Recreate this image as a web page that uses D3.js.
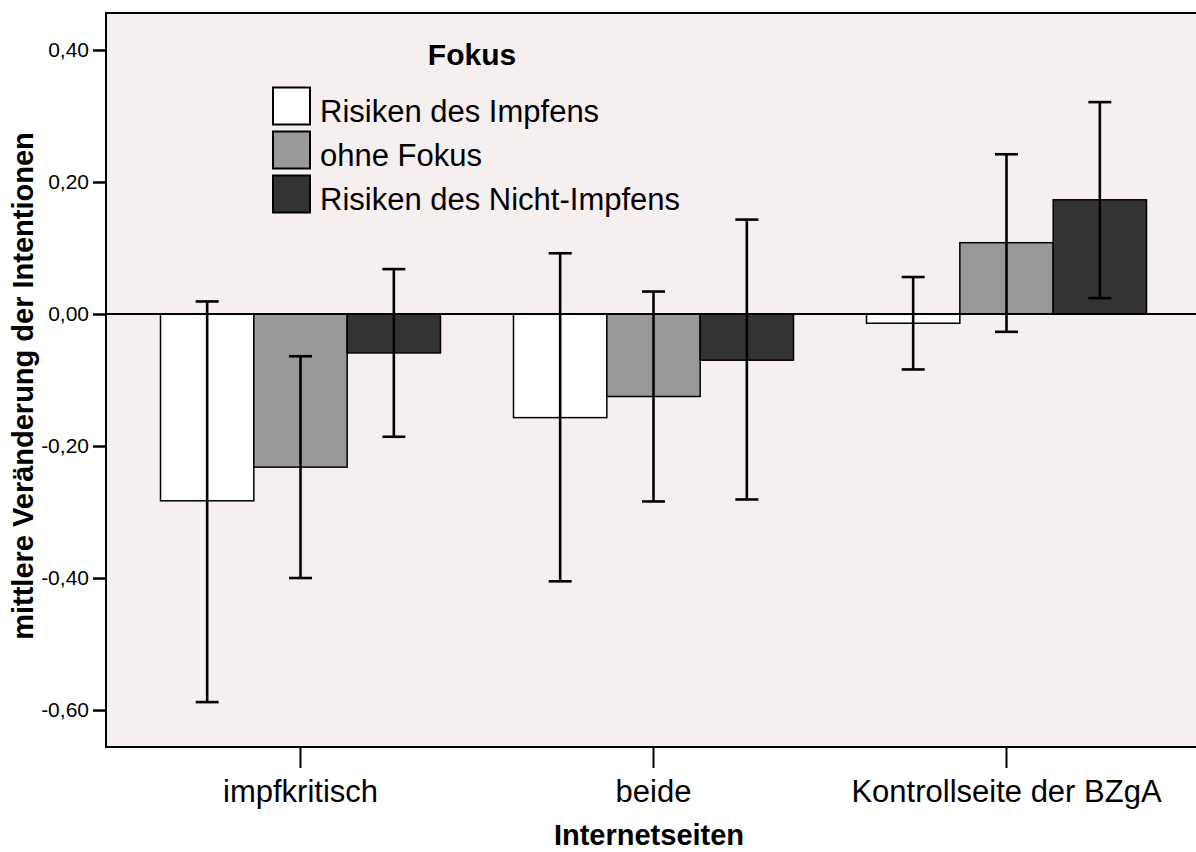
<!DOCTYPE html>
<html>
<head>
<meta charset="utf-8">
<script src="https://cdn.jsdelivr.net/npm/d3@7"></script>
<style>
    body { margin: 0; background: #ffffff; }
    text { font-family: "Liberation Sans", Arial, sans-serif; fill: #000000; }
</style>
</head>
<body>
<div id="chart"></div>
<script>
// data
var categories = ["impfkritisch", "beide", "Kontrollseite der BZgA"];
var seriesNames = ["Risiken des Impfens", "ohne Fokus", "Risiken des Nicht-Impfens"];
var seriesColors = ["#ffffff", "#999999", "#333333"];

// mean per category, one array per series
var meanImpfen      = [-0.283, -0.157, -0.014];
var meanOhneFokus   = [-0.232, -0.125,  0.108];
var meanNichtImpfen = [-0.059, -0.070,  0.173];

// error bar ends
var lowerImpfen      = [-0.588, -0.405, -0.084];
var upperImpfen      = [ 0.019,  0.092,  0.056];
var lowerOhneFokus   = [-0.400, -0.284, -0.027];
var upperOhneFokus   = [-0.064,  0.034,  0.242];
var lowerNichtImpfen = [-0.186, -0.281,  0.024];
var upperNichtImpfen = [ 0.068,  0.143,  0.321];

var yTicks = [-0.6, -0.4, -0.2, 0, 0.2, 0.4];
var yDomain = [-0.656, 0.456];

class BarChart {

    constructor() {
        this.width = 1196;
        this.height = 852;
        this.plot = { left: 106, top: 13, right: 1200, bottom: 747 };

        // flatten into one row per bar
        var means = [meanImpfen, meanOhneFokus, meanNichtImpfen];
        var lows = [lowerImpfen, lowerOhneFokus, lowerNichtImpfen];
        var highs = [upperImpfen, upperOhneFokus, upperNichtImpfen];
        this.rows = [];
        var self = this;
        categories.forEach(function (c, i) {
            seriesNames.forEach(function (s, j) {
                self.rows.push({ cat: c, series: s, color: seriesColors[j],
                    value: means[j][i], low: lows[j][i], high: highs[j][i] });
            });
        });
    }

    draw() {
        var p = this.plot;
        var svg = d3.select("#chart")
            .append("svg")
            .attr("width", this.width)
            .attr("height", this.height);

        var x = d3.scaleBand()
            .domain(categories)
            .range([124, 1183]);
        var xInner = d3.scaleBand()
            .domain(seriesNames)
            .range([-140, 140]);
        var y = d3.scaleLinear()
            .domain(yDomain)
            .range([p.bottom, p.top]);

        // plot background
        svg.append("rect")
            .attr("x", p.left)
            .attr("y", p.top)
            .attr("width", p.right - p.left)
            .attr("height", p.bottom - p.top)
            .style("fill", "#f5efef")
            .style("stroke", "#000")
            .style("stroke-width", 2);

        // bars
        svg.selectAll(".bar")
            .data(this.rows)
            .enter()
            .append("rect")
              .attr("class", "bar")
              .attr("x", function (d) { return x(d.cat) + x.bandwidth() / 2 + xInner(d.series) })
              .attr("y", function (d) { return y(Math.max(0, d.value)) })
              .attr("width", xInner.bandwidth())
              .attr("height", function (d) { return Math.abs(y(d.value) - y(0)) })
              .style("fill", function (d) { return d.color })
              .style("stroke", "#000")
              .style("stroke-width", 1.5);

        // zero line
        svg.append("line")
            .attr("x1", p.left)
            .attr("x2", p.right)
            .attr("y1", y(0))
            .attr("y2", y(0))
            .style("stroke", "#000")
            .style("stroke-width", 2);

        // error bars
        var eb = svg.selectAll(".err")
            .data(this.rows)
            .enter()
            .append("g")
              .attr("class", "err")
              .attr("transform", function (d) {
                  return "translate(" + (x(d.cat) + x.bandwidth() / 2 + xInner(d.series) + xInner.bandwidth() / 2) + ",0)";
              })
              .style("stroke", "#000")
              .style("stroke-width", 2.6);
        eb.append("line")
            .attr("y1", function (d) { return y(d.low) })
            .attr("y2", function (d) { return y(d.high) });
        eb.append("line")
            .attr("x1", -11.5).attr("x2", 11.5)
            .attr("y1", function (d) { return y(d.low) })
            .attr("y2", function (d) { return y(d.low) });
        eb.append("line")
            .attr("x1", -11.5).attr("x2", 11.5)
            .attr("y1", function (d) { return y(d.high) })
            .attr("y2", function (d) { return y(d.high) });

        // y axis, german decimal comma and plain hyphen minus
        var de = d3.formatLocale({ decimal: ",", thousands: ".", grouping: [3], currency: ["", " €"], minus: "-" });
        var yAxis = svg.append("g")
            .attr("transform", "translate(" + p.left + ",0)")
            .call(d3.axisLeft(y).tickValues(yTicks).tickFormat(de.format(".2f")).tickSize(13).tickPadding(4));
        yAxis.select(".domain").remove();
        yAxis.selectAll("line").style("stroke-width", 2.5);
        yAxis.selectAll("text")
            .style("font-size", "21px")
            .style("font-family", "'Liberation Sans', Arial, sans-serif");

        // x axis
        var xAxis = svg.append("g")
            .attr("transform", "translate(0," + p.bottom + ")")
            .call(d3.axisBottom(x).tickSize(21).tickPadding(12));
        xAxis.select(".domain").remove();
        xAxis.selectAll("line").style("stroke-width", 2);
        xAxis.selectAll("text")
            .style("font-size", "31px")
            .style("font-family", "'Liberation Sans', Arial, sans-serif");

        // axis titles
        svg.append("text")
            .attr("x", 649)
            .attr("y", 845)
            .attr("text-anchor", "middle")
            .style("font-size", "29px")
            .style("font-weight", "bold")
            .text("Internetseiten");
        svg.append("text")
            .attr("transform", "translate(33,386) rotate(-90)")
            .attr("text-anchor", "middle")
            .style("font-size", "29px")
            .style("font-weight", "bold")
            .text("mittlere Veränderung der Intentionen");

        // legend
        var legend = svg.append("g").attr("transform", "translate(273,0)");
        legend.append("text")
            .attr("x", 199)
            .attr("y", 65)
            .attr("text-anchor", "middle")
            .style("font-size", "30px")
            .style("font-weight", "bold")
            .text("Fokus");
        var item = legend.selectAll(".item")
            .data(seriesNames)
            .enter()
            .append("g")
              .attr("class", "item")
              .attr("transform", function (d, i) { return "translate(0," + (87.5 + i * 44) + ")" });
        item.append("rect")
            .attr("width", 37)
            .attr("height", 37)
            .style("fill", function (d, i) { return seriesColors[i] })
            .style("stroke", "#000")
            .style("stroke-width", 2);
        item.append("text")
            .attr("x", 47)
            .attr("y", 34)
            .style("font-size", "31px")
            .text(function (d) { return d });
    }
}

var chart = new BarChart();
chart.draw();
</script>
</body>
</html>
